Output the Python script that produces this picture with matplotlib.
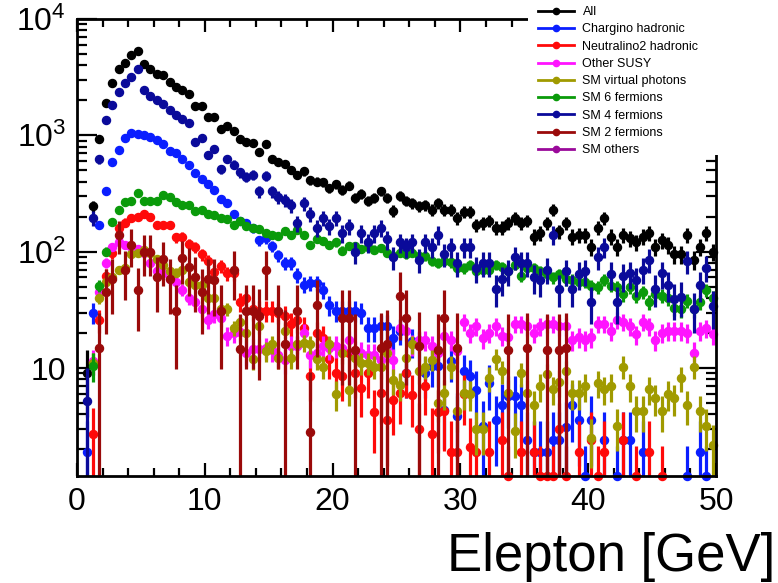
import numpy as np
import matplotlib
matplotlib.use("Agg")
import matplotlib.pyplot as plt
from matplotlib.lines import Line2D
from matplotlib.patches import Rectangle
from matplotlib.ticker import FuncFormatter, LogLocator, MultipleLocator

plt.rcParams['font.family'] = ['Liberation Sans', 'DejaVu Sans']
plt.rcParams['mathtext.fontset'] = 'custom'
plt.rcParams['mathtext.rm'] = 'Liberation Sans'
plt.rcParams['mathtext.it'] = 'Liberation Sans:italic'

nan = np.nan

# 100 bins of 0.5 GeV from 0 to 50
bin_lo, bin_hi, n_bins = 0.0, 50.0, 100

all_evts = [nan, 9, 245, 930, 1900, 2800, 3700, 4200, 4900, 5300,
            4100, 3700, 3400, 3300, 2850, 2600, 2450, 2260, 1780, 1770,
            1430, 1430, 1130, 1200, 1080, 930, 870, 860, 720, 840,
            630, 595, 565, 500, 460, 490, 410, 400, 395, 350,
            380, 340, 370, 290, 315, 275, 290, 330, 290, 225,
            300, 275, 260, 245, 250, 230, 260, 230, 230, 195,
            220, 220, 170, 175, 185, 160, 160, 175, 195, 175,
            185, 135, 145, 175, 230, 150, 175, 135, 140, 140,
            110, 160, 195, 135, 110, 140, 130, 120, 135, 145,
            110, 125, 115, 95, 95, 140, 85, 110, 145, 100]

chargino_had = [nan, 1.9, 30, 170, 335, 590, 750, 940, 1050, 1030,
                1010, 960, 915, 840, 730, 710, 620, 560, 470, 420,
                385, 340, 285, 260, 210, 185, 175, 160, 125, 130,
                112, 93, 80, 80, 63, 52, 54, 54, 47, 35,
                31, 31, 31, 31, 30, 22, 22, 23, 23, 18,
                21, 9, 17, 16, 9, 10.5, 10.5, 4.4, 11.5, 3.9,
                9.5, 8.5, 6.5, 3.2, 7.5, 3.6, 4.8, 5.8, 5.8, 4.8,
                2.4, 1.9, 1.9, 1.9, 2.4, 2.4, 3.1, 4.8, 3.6, 1.0,
                3.6, nan, 2.4, nan, 1.0, 2.4, 2.4, nan, 1.9, nan,
                nan, nan, nan, nan, nan, 1.0, nan, 1.9, 1.0, nan]

neutralino2_had = [nan, nan, 2.7, 26, 62, 97, 160, 178, 195, 200,
                   210, 200, 170, 170, 170, 133, 135, 117, 110, 95,
                   83, 67, 75, 65, 65, 37, 40, 32, 31, 31,
                   31, 30, 28, 24, 26, 22, 8.5, 20, 18, 12,
                   9, 8.6, 13.5, 9, 6.8, 9, 4.2, 6.1, 3.6, 5.3,
                   6.1, 9, 5.9, 3.0, 7, 2.7, 4.2, 4.3, 1.9, 1.9,
                   6, 2.1, 1.9, nan, 1.9, nan, 2.4, 1.0, nan, 1.9,
                   nan, 1.9, 1.0, 1.0, 1.0, 3.0, 1.0, nan, 1.9, nan,
                   2.4, 1.0, 1.9, nan, nan, 2.4, nan, 1.0, nan, 1.9,
                   nan, 1.0, nan, nan, nan, nan, nan, nan, nan, nan]

other_susy = [nan, nan, 11.5, 45, 80, 110, 122, 115, 110, 105,
              98, 80, 68, 65, 58, 55, 47, 40, 37, 32,
              26, 29, 27, 19, 20, 20.5, 13.5, 14.5, 14.5, 15,
              14.4, 13, 11.8, 15.5, 15.5, 20, 13, 13.5, 15.5, 15,
              15.5, 15, 17.5, 14, 13.5, 13, 13, 11.8, 15, 11.8,
              22, 21, 16, 17.5, 17.5, 15.5, 13.5, 19, 17.5, 14,
              25, 20, 23, 18, 20, 23, 19, 18.5, 24, 24,
              23, 20, 23, 24, 24, 23, 23, 17.5, 18.5, 17.5,
              18.5, 24, 24, 21, 26, 25, 23, 19.5, 25, 23,
              17.5, 20, 21, 21, 21, 20, 13.5, 21, 22, 19.5]

sm_virtual_photons = [nan, nan, 11, 40, 55, 60, 70, 72, 95, 97,
                      104, 98, 86, 77, 68, 66, 70, 55, 52, 52,
                      40, 40, 32, 32, 22, 25, 20, 12, 23, 14,
                      16, 12.3, 21, 12.3, 16, 16.5, 16, 12, 10.3, 16,
                      6, 13.5, 6.5, 12.3, 11, 11, 10.3, 10.3, 13.5, 7.9,
                      7.1, 12.3, 16, 9.4, 10.3, 11.8, 5, 6.1, 10.3, 4.3,
                      6.1, 6, 3, 3, 8.2, 12, 9.4, 6.1, 2.9, 9,
                      6.1, 4.8, 7, 8.8, 6.6, 7.6, 9.4, 6.1, 6.1, 7,
                      2.5, 7.5, 6.6, 7, 3.2, 10.3, 7, 4.3, 4.3, 6.6,
                      5.5, 4.3, 6, 5.5, 8.2, 4.8, 10.3, 4.3, 3.2, 2.2]

sm_6_fermions = [nan, nan, 10.5, 51, 100, 180, 230, 265, 275, 320,
                 275, 275, 270, 305, 295, 265, 250, 250, 225, 230,
                 210, 205, 195, 190, 170, 182, 165, 160, 156, 145,
                 138, 136, 150, 138, 155, 138, 115, 128, 124, 115,
                 120, 102, 112, 112, 106, 110, 104, 108, 98, 92,
                 98, 95, 98, 92, 92, 83, 80, 83, 81, 72,
                 72, 77, 68, 70, 70, 77, 74, 68, 77, 62,
                 72, 72, 68, 64, 60, 64, 58, 57, 55, 55,
                 51, 50, 57, 51, 50, 43, 50, 42, 45, 37,
                 43, 42, 40, 33, 32, 38, 32, 37, 47, 40]

sm_4_fermions = [nan, 5.2, 195, 620, 1350, 1810, 2370, 2800, 3200, 3700,
                 2450, 2200, 2000, 1870, 1660, 1500, 1380, 1280, 880, 950,
                 680, 760, 510, 630, 560, 480, 440, 460, 330, 450,
                 330, 295, 280, 250, 175, 260, 210, 160, 195, 165,
                 195, 145, 165, 100, 145, 120, 145, 160, 128, 90,
                 120, 110, 120, 85, 120, 110, 140, 95, 110, 80,
                 110, 110, 72, 80, 80, 48, 58, 68, 90, 80,
                 80, 60, 57, 70, 140, 48, 68, 48, 64, 68,
                 37, 90, 110, 64, 37, 62, 65, 57, 70, 85,
                 48, 65, 52, 39, 41, 83, 32, 52, 73, 34]

sm_2_fermions = [nan, nan, nan, 15, 45, 58, 140, 70, 115, 47,
                 100, 100, 60, 86, 58, 31, 88, 74, 60, 45,
                 58, 57, 31, nan, 70, 14.5, 31, 31, 28, 70,
                 nan, 31, 16, nan, 31, nan, 2.8, 35, nan, nan,
                 nan, 27, 27, 14.4, nan, nan, nan, 15, 16, nan,
                 42, 27, nan, 15.5, nan, nan, 14.4, 27, nan, 15,
                 nan, nan, nan, nan, nan, nan, nan, 14.4, nan, nan,
                 15, nan, nan, 14.4, nan, 14.4, 15, nan, nan, nan,
                 nan, nan, nan, nan, nan, nan, nan, nan, nan, nan,
                 nan, nan, nan, nan, nan, nan, nan, nan, nan, nan]

sm_others = [nan] * n_bins

labels = ['All', 'Chargino hadronic', 'Neutralino2 hadronic', 'Other SUSY',
          'SM virtual photons', 'SM 6 fermions', 'SM 4 fermions',
          'SM 2 fermions', 'SM others']
series = [all_evts, chargino_had, neutralino2_had, other_susy,
          sm_virtual_photons, sm_6_fermions, sm_4_fermions,
          sm_2_fermions, sm_others]
colors = ['#000000', '#0a1eff', '#ff0a0a', '#ff14ff', '#a09a00',
          '#0a9a0a', '#0a0a9a', '#9a0a0a', '#9a0a9a']
# event weights, used for the error bars
weights = [3.0, 1.3, 1.3, 0.7, 0.5, 0.8, 4.5, 14.5, 1.0]

YMIN, YMAX = 1.18, 1.0e4

fig = plt.figure(figsize=(7.78, 5.83), dpi=100)
ax = fig.add_axes([77 / 778, 1 - 476 / 583, (716 - 77) / 778, (476 - 19) / 583])

centers = bin_lo + (np.arange(n_bins) + 0.5) * (bin_hi - bin_lo) / n_bins

for vals, w, c in zip(series, weights, colors):
    v = np.array(vals, dtype=float)
    ok = ~np.isnan(v)
    if not ok.any():
        continue
    x = centers[ok]
    v = v[ok]
    err = np.sqrt(w * v)
    yp = np.clip(v, YMIN, None)
    low_end = np.where(v - err > 0, v - err, YMIN * 0.5)
    lo = np.clip(yp - low_end, 0, None)
    hi = v + err - yp
    ax.errorbar(x, yp, yerr=[lo, hi], fmt='none', ecolor=c, elinewidth=2.3,
                capsize=0)
    ax.plot(x, yp, 'o', color=c, ms=5.8, mec=c, clip_on=False)

ax.set_yscale('log')
ax.set_xlim(bin_lo, bin_hi)
ax.set_ylim(YMIN, YMAX)

ax.xaxis.set_major_locator(MultipleLocator(10))
ax.xaxis.set_minor_locator(MultipleLocator(2))
ax.yaxis.set_major_locator(LogLocator(base=10, numticks=10))
ax.yaxis.set_minor_locator(LogLocator(base=10, subs=np.arange(2, 10), numticks=50))


def ylab(v, pos):
    e = int(round(np.log10(v)))
    if e == 1:
        return '10'
    if e < 1:
        return ''
    return r'$\mathregular{10^{%d}}$' % e


ax.yaxis.set_major_formatter(FuncFormatter(ylab))
ax.yaxis.set_minor_formatter(FuncFormatter(lambda v, p: ''))

ax.tick_params(axis='both', which='both', direction='in', top=True, right=True,
               width=1.6, colors='black')
ax.tick_params(axis='y', which='major', length=14.5, labelsize=23, pad=8)
ax.tick_params(axis='y', which='minor', length=7.2)
ax.tick_params(axis='x', which='major', length=9.5, labelsize=23, pad=8)
ax.tick_params(axis='x', which='minor', length=5.8)
for s in ax.spines.values():
    s.set_linewidth(2.0)

fig.text(0.997, (583 - 571) / 583, 'Elepton [GeV]', ha='right', va='baseline',
         fontsize=38)

# white legend block over the top right corner
fig.add_artist(Rectangle((528 / 778, 1 - 155 / 583), 1, 1, transform=fig.transFigure,
                         facecolor='white', edgecolor='none', zorder=3))
handles = [Line2D([], [], color=c, lw=2, marker='o', ms=4.5, mec=c) for c in colors]
fig.legend(handles, labels, loc='upper left', bbox_to_anchor=(535 / 778, 1 - 3 / 583),
           frameon=False, fontsize=9, handlelength=2.9, handletextpad=0.65,
           labelspacing=0.42, borderpad=0.25, borderaxespad=0.0)

fig.savefig('out.png', dpi=100)
